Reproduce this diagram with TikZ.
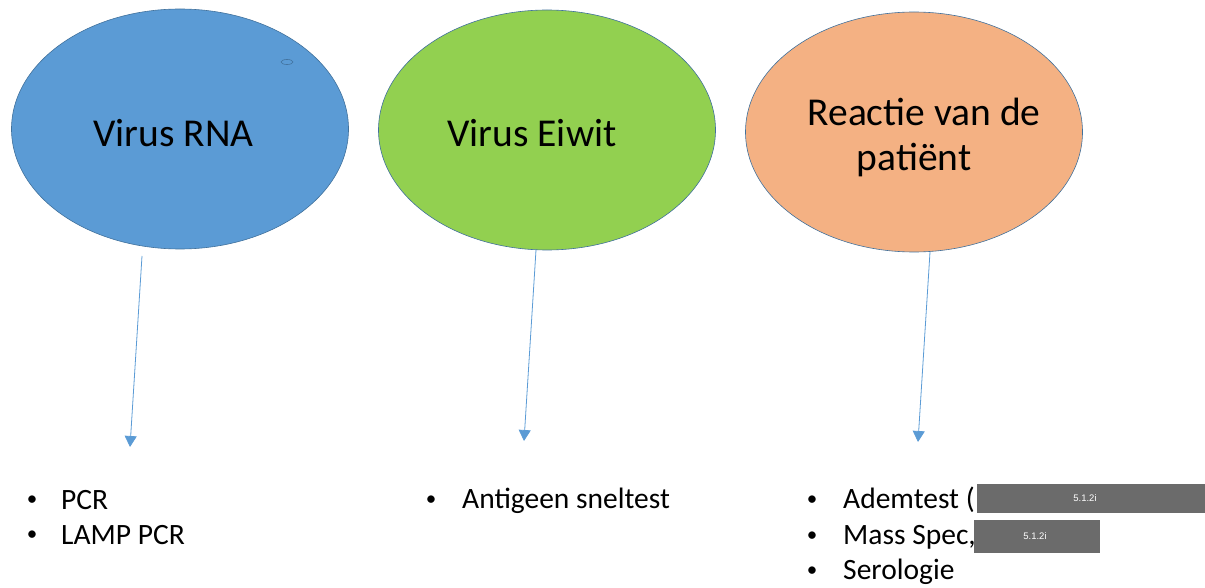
\documentclass[tikz,border=0pt]{standalone}
\usepackage{fontspec}
\setmainfont{Carlito}
\newfontfamily\arialf{Liberation Sans}
\usetikzlibrary{shapes.geometric,arrows.meta}
\definecolor{eblue}{HTML}{5B9BD5}
\definecolor{egreen}{HTML}{92D050}
\definecolor{eorange}{HTML}{F4B183}
\definecolor{edge}{HTML}{41719C}
\definecolor{redact}{HTML}{6B6B6B}
\tikzset{
  bubble/.style={ellipse, draw=edge, line width=0.6pt, minimum width=337pt, minimum height=240pt, inner sep=0pt},
  btext/.style={inner sep=0pt, font=\fontsize{39.5}{48}\selectfont},
  link/.style={draw=eblue, line width=0.8pt, -{Triangle[length=11pt,width=12pt]}},
  item/.style={anchor=base west, inner sep=0pt, font=\fontsize{29.5}{35}\selectfont},
  dot/.style={anchor=center, inner sep=0pt, font=\fontsize{21}{26}\selectfont},
  redbox/.style={fill=redact, draw=none, inner sep=0pt, anchor=north west},
  rtext/.style={text=white, font=\arialf\fontsize{9.5}{11}\selectfont, inner sep=0pt},
}
\begin{document}
\begin{tikzpicture}[x=1pt,y=-1pt]
\useasboundingbox (0,0) rectangle (1205,588);
\node[bubble, fill=eblue] (rna) at (180,129) {};
\node[btext] (rnat) at (173.5,133) {Virus RNA};
\node[ellipse, draw=edge, line width=0.6pt, minimum width=12pt, minimum height=5pt, inner sep=0pt] (blob) at (287,62) {};
\node[bubble, fill=egreen] (eiw) at (547,130) {};
\node[btext] (eiwt) at (532,133) {Virus Eiwit};
\node[bubble, fill=eorange] (pat) at (914,132) {};
\node[btext] (patt1) at (924,112) {Reactie van de};
\node[btext] (patt2) at (914,160) {patiënt};

\coordinate (s1) at (142,256);
\coordinate (e1) at (130,447);
\coordinate (s2) at (536,250);
\coordinate (e2) at (524,441);
\coordinate (s3) at (930,252);
\coordinate (e3) at (918,442);
\draw[link] (s1) -- (e1);
\draw[link] (s2) -- (e2);
\draw[link] (s3) -- (e3);

\node[dot] (b1) at (32,501) {•};
\node[item] (t1) at (61,509) {PCR};
\node[dot] (b2) at (32,536) {•};
\node[item] (t2) at (61,544) {LAMP PCR};

\node[dot] (b3) at (431,501) {•};
\node[item] (t3) at (462,508) {Antigeen sneltest};

\node[dot] (b4) at (812,501) {•};
\node[item] (t4) at (843,508) {Ademtest (};
\node[dot] (b5) at (812,537) {•};
\node[item] (t5) at (843,544) {Mass Spec,};
\node[dot] (b6) at (812,572) {•};
\node[item] (t6) at (843,579) {Serologie};

\node[redbox, minimum width=228pt, minimum height=29pt] (r1) at (977,484) {};
\node[rtext] (r1t) at (1085,498) {5.1.2i};
\node[redbox, minimum width=126pt, minimum height=33pt] (r2) at (974,520) {};
\node[rtext] (r2t) at (1035,536) {5.1.2i};
\end{tikzpicture}
\end{document}
